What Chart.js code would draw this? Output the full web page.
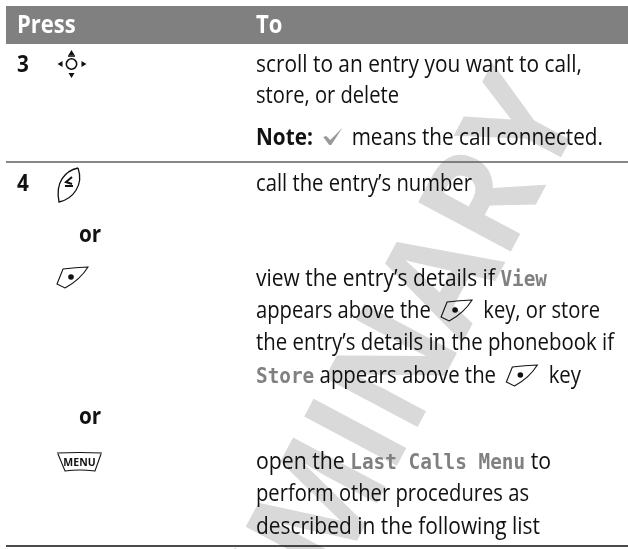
<!DOCTYPE html>
<html>
<head>
<meta charset="utf-8">
<style>
	html, body { margin: 0; padding: 0; background: #fff; overflow: hidden; }
	canvas { display: block; }
</style>
<script src="https://cdn.jsdelivr.net/npm/chart.js@4"></script>
</head>
<body>
<canvas id="table-chart" width="628" height="549"></canvas>
<script>
// table content. {x} = softkey label, *x* = bold, @ = softkey icon, % = check mark
var headers = ['Press', 'To'];
var steps = ['3', '4'];
var orLabels = ['or', 'or'];
var toLines = [
	'scroll to an entry you want to call,',
	'store, or delete',
	'*Note:* % means the call connected.',
	'call the entry’s number',
	'view the entry’s details if {View}',
	'appears above the @ key, or store',
	'the entry’s details in the phonebook if',
	'{Store} appears above the @ key',
	'open the {Last Calls Menu} to',
	'perform other procedures as',
	'described in the following list'
];
var watermark = 'PRELIMINARY';

// layout, in page pixels
var toBaselines = [72, 103, 145, 191, 286, 318, 350, 383, 469, 501, 534];
var toLineEnds = [582, 399, 603, 472, 547, 600, 614, 581, 551, 529, 540];
var stepBaselines = [72, 191];
var orBaselines = [242, 424];
var COL_PRESS = 17, COL_OR = 79, COL_TO = 256;
var BODY = '23px "Open Sans"', BOLD = 'bold 23px "Open Sans"', MONO = 'bold 22px "DejaVu Sans Mono"';
var BODY_SQUEEZE = 0.9, MONO_SQUEEZE = 0.88;
var KEY_ADVANCE = 42, CHECK_ADVANCE = 28;

function softkey(ctx, x, y) {
	ctx.save();
	ctx.translate(x, y);
	ctx.strokeStyle = '#111';
	ctx.lineWidth = 1.1;
	ctx.beginPath();
	ctx.moveTo(6, 2);
	ctx.quadraticCurveTo(18, 0.5, 31, 0);
	ctx.quadraticCurveTo(23, 13, 8, 21);
	ctx.lineTo(0, 17);
	ctx.closePath();
	ctx.stroke();
	ctx.fillStyle = '#111';
	ctx.beginPath();
	ctx.arc(14, 10, 2.8, 0, Math.PI * 2);
	ctx.fill();
	ctx.restore();
}

function check(ctx, x, y) {
	ctx.save();
	ctx.translate(x, y);
	ctx.fillStyle = '#999';
	ctx.beginPath();
	ctx.moveTo(0, 9);
	ctx.lineTo(3, 8);
	ctx.lineTo(7, 12);
	ctx.lineTo(19, 0);
	ctx.lineTo(8, 17);
	ctx.lineTo(6, 17);
	ctx.closePath();
	ctx.fill();
	ctx.restore();
}

function navKey(ctx, x, y) {
	ctx.save();
	ctx.translate(x, y);
	ctx.strokeStyle = '#111';
	ctx.fillStyle = '#111';
	ctx.lineWidth = 1.6;
	ctx.beginPath();
	ctx.arc(0, 0, 5.2, 0, Math.PI * 2);
	ctx.stroke();
	ctx.beginPath();
	ctx.moveTo(-3.5, -8);
	ctx.lineTo(3.5, -8);
	ctx.stroke();
	[[0, -14, 0, -9, 3], [0, 14, 0, 9, 3]].forEach(function(t) {
		ctx.beginPath();
		ctx.moveTo(t[0], t[1]);
		ctx.lineTo(t[2] - t[4], t[3]);
		ctx.lineTo(t[2] + t[4], t[3]);
		ctx.fill();
	});
	[[-14, 0, -9, 0, 3], [15, 0, 10, 0, 3]].forEach(function(t) {
		ctx.beginPath();
		ctx.moveTo(t[0], t[1]);
		ctx.lineTo(t[2], t[3] - t[4]);
		ctx.lineTo(t[2], t[3] + t[4]);
		ctx.fill();
	});
	ctx.restore();
}

function sendKey(ctx, x, y) {
	ctx.save();
	ctx.translate(x, y);
	ctx.strokeStyle = '#111';
	ctx.lineWidth = 1.3;
	ctx.beginPath();
	ctx.moveTo(21, 0);
	ctx.bezierCurveTo(8, 3, -2, 14, 2, 34);
	ctx.bezierCurveTo(16, 31, 27, 17, 21, 0);
	ctx.stroke();
	ctx.lineWidth = 2;
	ctx.beginPath();
	ctx.moveTo(15, 9);
	ctx.lineTo(9, 14);
	ctx.lineTo(15, 16);
	ctx.moveTo(8, 18);
	ctx.lineTo(16, 18);
	ctx.stroke();
	ctx.restore();
}

function menuKey(ctx, x, y) {
	ctx.save();
	ctx.translate(x, y);
	ctx.strokeStyle = '#111';
	ctx.lineWidth = 1.1;
	ctx.beginPath();
	ctx.moveTo(0, 1);
	ctx.quadraticCurveTo(22, 0, 45, 1);
	ctx.moveTo(1, 2);
	ctx.lineTo(8, 19);
	ctx.quadraticCurveTo(22, 17, 38, 19);
	ctx.lineTo(44, 2);
	ctx.stroke();
	ctx.fillStyle = '#111';
	ctx.font = 'bold 10.5px "Open Sans"';
	ctx.textAlign = 'center';
	ctx.textBaseline = 'alphabetic';
	ctx.fillText('MENU', 22.5, 13.5);
	ctx.restore();
}

function splitRuns(line) {
	return line.match(/\*[^*]+\*|\{[^}]+\}|@|%|[^*{@%]+/g);
}

// squeeze for the plain text runs so that the line stops where the original does
function fitSqueeze(ctx, line, x, end) {
	var plain = 0, fixed = 0;
	splitRuns(line).forEach(function(p) {
		if (p == '@') {
			fixed += KEY_ADVANCE;
		} else if (p == '%') {
			fixed += CHECK_ADVANCE;
		} else if (p[0] == '{') {
			ctx.font = MONO;
			fixed += ctx.measureText(p.slice(1, -1)).width * MONO_SQUEEZE;
		} else if (p[0] == '*') {
			ctx.font = BOLD;
			plain += ctx.measureText(p.slice(1, -1)).width;
		} else {
			ctx.font = BODY;
			plain += ctx.measureText(p).width;
		}
	});
	return (end - x - fixed) / plain;
}

function drawLine(ctx, line, x, y, end) {
	var fit = fitSqueeze(ctx, line, x, end);
	splitRuns(line).forEach(function(p) {
		if (p == '@') {
			softkey(ctx, x + 5, y - 18);
			x += KEY_ADVANCE;
		} else if (p == '%') {
			check(ctx, x + 5, y - 17);
			x += CHECK_ADVANCE;
		} else {
			var font = BODY, color = '#111', txt = p, sq = fit;
			if (p[0] == '*') { font = BOLD; txt = p.slice(1, -1); }
			if (p[0] == '{') { font = MONO; color = '#808080'; txt = p.slice(1, -1); sq = MONO_SQUEEZE; }
			ctx.font = font;
			ctx.fillStyle = color;
			squeezed(ctx, txt, x, y, sq);
			x += ctx.measureText(txt).width * sq;
		}
	});
}

function squeezed(ctx, txt, x, y, sq) {
	ctx.save();
	ctx.translate(x, y);
	ctx.scale(sq, 1);
	ctx.fillText(txt, 0, 0);
	ctx.restore();
}

var tablePlugin = {
	id: 'tableText',
	beforeDatasetsDraw: function(chart) {
		// watermark sits under the rules and the text
		var ctx = chart.ctx, sx = chart.scales.x, sy = chart.scales.y;
		ctx.save();
		ctx.translate(sx.getPixelForValue(585), sy.getPixelForValue(112));
		ctx.rotate(-62 * Math.PI / 180);
		ctx.scale(0.9, 1);
		ctx.font = 'bold 147px "Open Sans"';
		ctx.textAlign = 'right';
		ctx.fillStyle = '#d9d9d9';
		ctx.fillText(watermark, 0, 0);
		ctx.restore();
	},
	afterDatasetsDraw: function(chart) {
		var ctx = chart.ctx, sx = chart.scales.x, sy = chart.scales.y;
		ctx.save();
		ctx.textBaseline = 'alphabetic';

		ctx.font = 'bold 25px "Open Sans"';
		ctx.fillStyle = '#fff';
		[COL_PRESS, COL_TO].forEach(function(col, i) {
			squeezed(ctx, headers[i], sx.getPixelForValue(col), sy.getPixelForValue(33), 0.88);
		});

		ctx.font = BOLD;
		ctx.fillStyle = '#111';
		steps.forEach(function(s, i) {
			squeezed(ctx, s, sx.getPixelForValue(COL_PRESS), sy.getPixelForValue(stepBaselines[i]), BODY_SQUEEZE);
		});
		orLabels.forEach(function(s, i) {
			squeezed(ctx, s, sx.getPixelForValue(COL_OR), sy.getPixelForValue(orBaselines[i]), BODY_SQUEEZE);
		});

		toLines.forEach(function(line, i) {
			drawLine(ctx, line, sx.getPixelForValue(COL_TO), sy.getPixelForValue(toBaselines[i]), sx.getPixelForValue(toLineEnds[i]));
		});

		navKey(ctx, sx.getPixelForValue(71.5), sy.getPixelForValue(64));
		sendKey(ctx, sx.getPixelForValue(57), sy.getPixelForValue(168));
		softkey(ctx, sx.getPixelForValue(57), sy.getPixelForValue(267));
		menuKey(ctx, sx.getPixelForValue(57), sy.getPixelForValue(452));
		ctx.restore();
	}
};

var ctx = document.getElementById('table-chart');
var tableChart = new Chart(ctx, {
	type: 'line',
	data: {
		datasets: [
			{ label: 'header', data: [{x: 6, y: 25}, {x: 628, y: 25}], borderColor: '#808080', borderWidth: 38, pointRadius: 0, borderCapStyle: 'butt' },
			{ label: 'rule', data: [{x: 6, y: 162}, {x: 628, y: 162}], borderColor: '#5f5f5f', borderWidth: 1.5, pointRadius: 0 },
			{ label: 'end', data: [{x: 6, y: 546}, {x: 628, y: 546}], borderColor: '#111', borderWidth: 1.5, pointRadius: 0 }
		]
	},
	options: {
		responsive: false,
		animation: false,
		layout: { padding: 0 },
		parsing: false,
		plugins: { legend: { display: false }, tooltip: { enabled: false } },
		scales: {
			x: { type: 'linear', min: 0, max: 628, display: false },
			y: { type: 'linear', min: 0, max: 549, reverse: true, display: false }
		}
	},
	plugins: [tablePlugin]
});
</script>
</body>
</html>
